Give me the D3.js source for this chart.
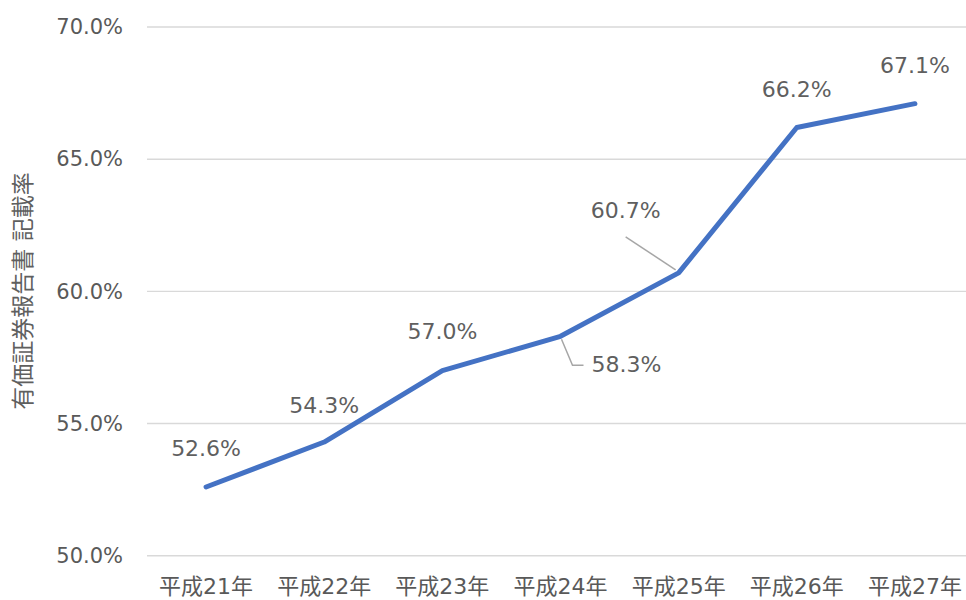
<!DOCTYPE html>
<html>
<head>
<meta charset="utf-8">
<script src="https://cdn.jsdelivr.net/npm/d3@7"></script>
<style>
  html, body { margin: 0; padding: 0; background: #fff; overflow: hidden; }
  svg { display: block; }
  text { font-family: "DejaVu Sans", "Noto Sans CJK JP", sans-serif; fill: #595959; }
</style>
</head>
<body>
<svg id="chart" width="966" height="600"></svg>
<script>
// Disclosure rate by fiscal year
const categories = ["平成21年", "平成22年", "平成23年", "平成24年", "平成25年", "平成26年", "平成27年"];
const rates = [52.6, 54.3, 57.0, 58.3, 60.7, 66.2, 67.1];
const yTicks = [50, 55, 60, 65, 70];
const yTitle = "有価証券報告書 記載率";

// Label placement: offset of label centre from its point; leader lines where labels sit away
const labelOffsets = [
  { dx: 0, dy: -38 }, { dx: 0, dy: -37 }, { dx: 0, dy: -39 },
  { dx: 66, dy: 28, leader: "elbow" }, { dx: -53, dy: -62, leader: "straight" },
  { dx: 0, dy: -38 }, { dx: 0, dy: -38 }
];

const svg = d3.select("#chart");
const plotLeft = 147, plotRight = 974, plotTop = 27, plotBottom = 555.7;

const x = d3.scaleBand().domain(categories).range([plotLeft, plotRight]);
const y = d3.scaleLinear().domain([50, 70]).range([plotBottom, plotTop]);
const cx = c => x(c) + x.bandwidth() / 2;

// Horizontal gridlines
svg.append("g").selectAll("line").data(yTicks).join("line")
  .attr("x1", plotLeft).attr("x2", 966)
  .attr("y1", d => y(d)).attr("y2", d => y(d))
  .attr("stroke", "#d9d9d9").attr("stroke-width", 1.4);

// Y axis tick labels
const yAxis = d3.axisLeft(y).tickValues(yTicks).tickSize(0).tickPadding(24)
  .tickFormat(d => d.toFixed(1) + "%");
const gy = svg.append("g").attr("transform", `translate(${plotLeft},0)`).call(yAxis);
gy.select(".domain").remove();
gy.selectAll("text").attr("font-size", 21).attr("fill", "#5f5f5f")
  .attr("font-family", "DejaVu Sans, Noto Sans CJK JP, sans-serif");

// X axis category labels
const xAxis = d3.axisBottom(x).tickSize(0).tickPadding(0);
const gx = svg.append("g").attr("transform", `translate(0,${plotBottom})`).call(xAxis);
gx.select(".domain").remove();
gx.selectAll("text").attr("font-size", 22).attr("fill", "#5f5f5f")
  .attr("font-family", "DejaVu Sans, Noto Sans CJK JP, sans-serif")
  .attr("dy", 0).attr("y", 38.5);

// Y axis title
svg.append("text")
  .attr("transform", `translate(31,291) rotate(-90)`)
  .attr("text-anchor", "middle")
  .attr("font-size", 23)
  .style("fill", "#5f5f5f")
  .text(yTitle);

// Series line
const line = d3.line().x((d, i) => cx(categories[i])).y(d => y(d));
svg.append("path").datum(rates)
  .attr("d", line)
  .attr("fill", "none")
  .attr("stroke", "#4472c4")
  .attr("stroke-width", 5)
  .attr("stroke-linejoin", "round")
  .attr("stroke-linecap", "round");

// Leader lines
rates.forEach((v, i) => {
  const o = labelOffsets[i];
  const px = cx(categories[i]), py = y(v);
  if (o.leader === "straight") {
    svg.append("line")
      .attr("x1", px + o.dx) .attr("y1", py + o.dy + 26)
      .attr("x2", px - 3).attr("y2", py - 3)
      .attr("stroke", "#a6a6a6").attr("stroke-width", 1.5);
  } else if (o.leader === "elbow") {
    svg.append("polyline")
      .attr("points", [[px + 1, py + 3], [px + 12, py + o.dy + 1], [px + 23, py + o.dy + 1]].map(p => p.join(",")).join(" "))
      .attr("fill", "none")
      .attr("stroke", "#a6a6a6").attr("stroke-width", 1.5);
  }
});

// Data labels
svg.append("g").selectAll("text").data(rates).join("text")
  .attr("x", (d, i) => cx(categories[i]) + labelOffsets[i].dx)
  .attr("y", (d, i) => y(d) + labelOffsets[i].dy)
  .attr("text-anchor", "middle")
  .attr("dominant-baseline", "central")
  .attr("font-size", 22)
  .style("fill", "#5f5f5f")
  .text(d => d.toFixed(1) + "%");
</script>
</body>
</html>
